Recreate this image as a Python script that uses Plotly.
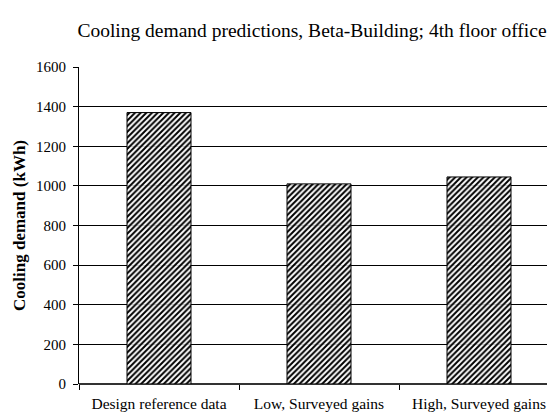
import plotly.graph_objects as go

categories = ["Design reference data", "Low, Surveyed gains", "High, Surveyed gains"]
cooling_kwh = [1370, 1010, 1045]
y_ticks = [0, 200, 400, 600, 800, 1000, 1200, 1400, 1600]

# page body has an 8px margin; size the figure so it fills the 555x416 window
OFF = 8
W, H = 555 - OFF, 416 - OFF
FONT = "Liberation Serif"

fig = go.Figure()
fig.add_trace(go.Bar(
    x=categories, y=cooling_kwh, width=0.4,
    marker=dict(
        color="white",
        line=dict(color="black", width=1),
        pattern=dict(shape="/", fgcolor="black", bgcolor="rgba(255,255,255,0.85)",
                     size=4, solidity=0.5, fillmode="replace"),
    ),
))

fig.update_layout(
    width=W, height=H,
    margin=dict(l=79 - OFF, r=0, t=67 - OFF, b=32, autoexpand=False),
    paper_bgcolor="white", plot_bgcolor="white",
    showlegend=False,
    font=dict(family=FONT, color="black", size=15),
    title=dict(text="Cooling demand predictions, Beta-Building; 4th floor office",
               x=(312 - OFF) / W, xanchor="center", y=1 - (30 - OFF) / H, yanchor="middle",
               font=dict(family=FONT, size=19.5, color="black")),
)
fig.update_xaxes(
    type="category", range=[-0.5, 2.475], automargin=False,
    tickson="boundaries", ticks="outside", ticklen=5, tickcolor="black",
    ticklabelstandoff=8,
    showgrid=False, showline=False,
    tickfont=dict(family=FONT, size=15.5),
)
fig.update_yaxes(
    range=[0, 1600], tickvals=y_ticks, ticks="outside", ticklen=5, tickcolor="black",
    automargin=False, ticklabelstandoff=4,
    showgrid=True, gridcolor="black", gridwidth=1,
    showline=True, linecolor="black", linewidth=1,
    zeroline=True, zerolinecolor="#333333", zerolinewidth=2,
    tickfont=dict(family=FONT, size=15),
    title=dict(text="<b>Cooling demand (kWh)</b>", font=dict(family=FONT, size=17), standoff=6),
)

fig.write_html("out.html")
